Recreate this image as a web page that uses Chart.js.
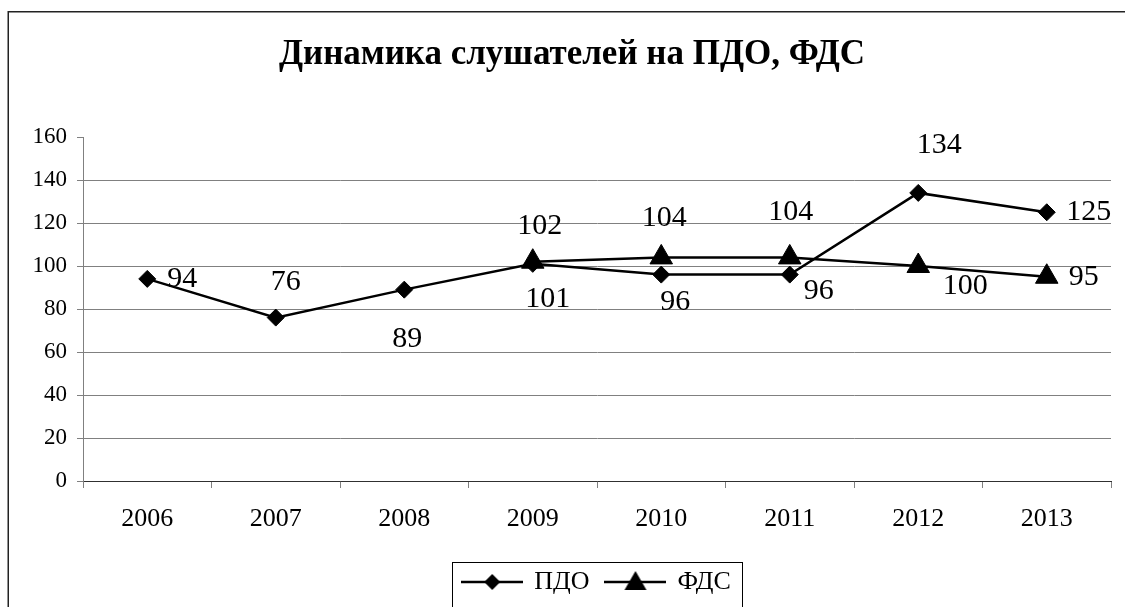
<!DOCTYPE html>
<html lang="ru">
<head>
  <meta charset="UTF-8">
  <title>Динамика слушателей на ПДО, ФДС</title>
  <style>
    body { margin: 0; background: #fff; }
    canvas { display: block; }
  </style>
</head>
<body>
  <canvas id="chart" width="1125" height="607"></canvas>

  <script src="https://cdn.jsdelivr.net/npm/chart.js"></script>
  <script>
    const years = ['2006', '2007', '2008', '2009', '2010', '2011', '2012', '2013'];
    const pdo = [94, 76, 89, 101, 96, 96, 134, 125];
    const fds = [null, null, null, 102, 104, 104, 100, 95];
    const yTicks = [0, 20, 40, 60, 80, 100, 120, 140, 160];

    const serif = "'Liberation Serif', 'Times New Roman', serif";

    // where each value label sits relative to its point (dx, dy), as in the original
    const labelOffsets = [
      [[35, 0], [10, -35], [3, 49], [15, 35], [14, 28], [29, 17], [21, -48], [42, 0]],
      [null, null, null, [7, -36], [3, -39], [1, -45], [47, 20], [37, 0]]
    ];

    // legend symbol: short line with the marker in the middle
    function legendIcon(style) {
      const c = document.createElement('canvas');
      c.width = 62; c.height = 28;
      const g = c.getContext('2d');
      g.strokeStyle = '#000';
      g.fillStyle = '#000';
      g.lineWidth = 2.5;
      g.beginPath(); g.moveTo(0, 14); g.lineTo(62, 14); g.stroke();
      g.beginPath();
      if (style === 'diamond') {
        g.moveTo(31, 6); g.lineTo(39, 14); g.lineTo(31, 22); g.lineTo(23, 14);
      } else {
        g.moveTo(31, 3); g.lineTo(42, 22); g.lineTo(20, 22);
      }
      g.closePath(); g.fill();
      return c;
    }
    const icons = [legendIcon('diamond'), legendIcon('triangle')];

    const framePlugin = {
      id: 'frame',
      afterDraw(chart) {
        const ctx = chart.ctx;
        ctx.save();
        ctx.strokeStyle = '#222';
        ctx.lineWidth = 1.5;
        ctx.strokeRect(8.25, 11.75, 2000, 2000);
        // box round the legend
        const lg = chart.legend;
        const hb = lg.legendHitBoxes;
        if (hb && hb.length) {
          const left = hb[0].left - 11;
          const right = hb[hb.length - 1].left + hb[hb.length - 1].width + 11;
          ctx.lineWidth = 1;
          ctx.strokeStyle = '#000';
          ctx.strokeRect(Math.round(left) + 0.5, Math.round(lg.top + 10) + 0.5, Math.round(right - left), 200);
        }
        ctx.restore();
      }
    };

    const valueLabels = {
      id: 'valueLabels',
      afterDatasetsDraw(chart) {
        const ctx = chart.ctx;
        ctx.save();
        ctx.font = '30px ' + serif;
        ctx.fillStyle = '#000';
        ctx.textAlign = 'center';
        ctx.textBaseline = 'middle';
        chart.data.datasets.forEach((ds, di) => {
          const meta = chart.getDatasetMeta(di);
          meta.data.forEach((pt, i) => {
            const v = ds.data[i];
            const off = labelOffsets[di][i];
            if (v === null || !off) return;
            ctx.fillText(String(v), pt.x + off[0], pt.y + off[1]);
          });
        });
        ctx.restore();
      }
    };

    const ctx = document.getElementById('chart').getContext('2d');
    new Chart(ctx, {
      type: 'line',
      data: {
        labels: years,
        datasets: [
          {
            label: 'ПДО',
            data: pdo,
            borderColor: '#000',
            backgroundColor: '#000',
            borderWidth: 2.5,
            pointStyle: 'rectRot',
            pointRadius: 8.5,
            pointHoverRadius: 8.5,
            pointBorderWidth: 1,
            tension: 0
          },
          {
            label: 'ФДС',
            data: fds,
            borderColor: '#000',
            backgroundColor: '#000',
            borderWidth: 2.5,
            pointStyle: 'triangle',
            pointRadius: 13,
            pointHoverRadius: 13,
            pointBorderWidth: 1,
            tension: 0
          }
        ]
      },
      options: {
        responsive: false,
        animation: false,
        layout: { padding: { left: 19, right: 0, top: 0, bottom: 2 } },
        scales: {
          x: {
            offset: true,
            grid: {
              offset: true,
              drawOnChartArea: false,
              tickLength: 7,
              color: '#808080'
            },
            border: { color: '#303030', width: 1 },
            ticks: {
              color: '#000',
              padding: 16,
              font: { family: serif, size: 26 }
            },
            afterFit(scale) { scale.height = 71; }
          },
          y: {
            min: 0,
            max: 160,
            afterBuildTicks(scale) {
              scale.ticks = yTicks.map(v => ({ value: v }));
            },
            grid: {
              color: c => (c.tick && c.tick.value === 160) ? 'rgba(0,0,0,0)' : '#808080',
              tickColor: '#808080',
              tickLength: 6
            },
            border: { color: '#808080', width: 1 },
            ticks: {
              color: '#000',
              padding: 10,
              font: { family: serif, size: 23 }
            },
            afterFit(scale) { scale.width = 64; }
          },
          spacer: {
            position: 'right',
            min: 0,
            max: 1,
            grid: { display: false },
            border: { display: false },
            ticks: { display: false },
            afterFit(scale) { scale.width = 10; }
          }
        },
        plugins: {
          title: {
            display: true,
            text: 'Динамика слушателей на ПДО, ФДС',
            color: '#000',
            font: { family: serif, size: 35, weight: 'bold', lineHeight: 1.2 },
            padding: { top: 34, bottom: 61 }
          },
          legend: {
            display: true,
            position: 'bottom',
            fullSize: false,
            labels: {
              color: '#000',
              font: { family: serif, size: 26 },
              usePointStyle: true,
              pointStyleWidth: 58,
              padding: 17,
              generateLabels(chart) {
                const items = Chart.defaults.plugins.legend.labels.generateLabels(chart);
                items.forEach((it, i) => { it.pointStyle = icons[i]; });
                return items;
              }
            }
          },
          tooltip: { enabled: false }
        }
      },
      plugins: [valueLabels, framePlugin]
    });
  </script>
</body>
</html>
